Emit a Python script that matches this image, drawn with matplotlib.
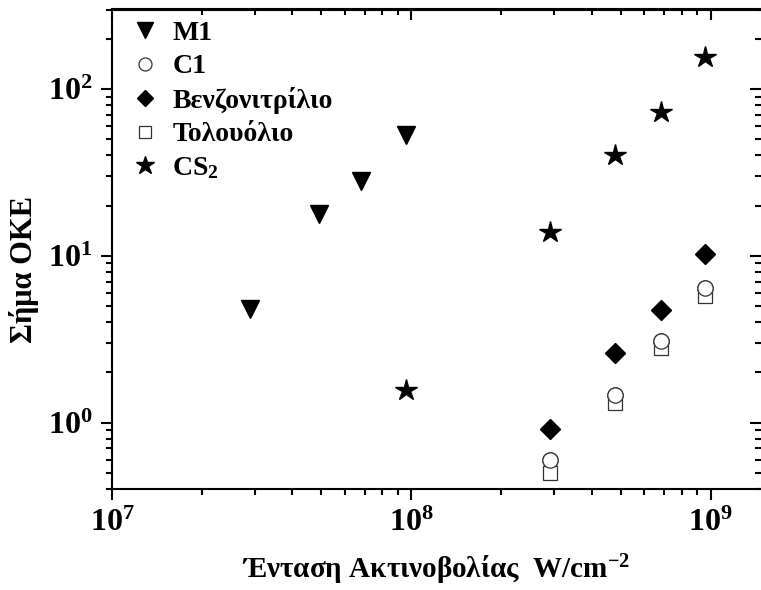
import matplotlib
matplotlib.use("Agg")
import matplotlib.pyplot as plt
from matplotlib.ticker import LogLocator, NullFormatter

plt.rcParams['font.family'] = ['Liberation Serif', 'DejaVu Serif']
plt.rcParams['font.weight'] = 'bold'
plt.rcParams['mathtext.fontset'] = 'custom'
plt.rcParams['mathtext.rm'] = 'Liberation Serif:bold'
plt.rcParams['mathtext.it'] = 'Liberation Serif:bold'
plt.rcParams['mathtext.bf'] = 'Liberation Serif:bold'
plt.rcParams['mathtext.default'] = 'rm'

# Intensity (W/cm^2) and OKE signal for each sample
m1_x = [2.9e7, 4.9e7, 6.8e7, 9.6e7]
m1_y = [4.8, 17.7, 28.0, 53.0]

c1_x = [2.9e8, 4.8e8, 6.8e8, 9.6e8]
c1_y = [0.60, 1.47, 3.07, 6.45]

benz_x = [2.9e8, 4.8e8, 6.8e8, 9.6e8]
benz_y = [0.91, 2.62, 4.73, 10.2]

tol_x = [2.9e8, 4.8e8, 6.8e8, 9.6e8]
tol_y = [0.50, 1.31, 2.82, 5.75]

cs2_x = [9.6e7, 2.9e8, 4.8e8, 6.8e8, 9.6e8]
cs2_y = [1.56, 13.9, 40.0, 72.5, 156.0]

labels = ["M1", "C1", "Βενζονιτρίλιο", "Τολουόλιο", r"CS$_\mathregular{2}$"]

fig = plt.figure(figsize=(7.61, 5.90), dpi=100)
ax = fig.add_axes([112 / 761, 101 / 590, 649 / 761, 479.5 / 590])

ax.plot(m1_x, m1_y, linestyle='none', marker='v', ms=13.5, color='black',
        mec='black', label=labels[0])
ax.plot(c1_x, c1_y, linestyle='none', marker='o', ms=11, mfc='white',
        mec='#333333', mew=0.9, label=labels[1])
ax.plot(benz_x, benz_y, linestyle='none', marker='D', ms=10, color='black',
        label=labels[2])
ax.plot(tol_x, tol_y, linestyle='none', marker='s', ms=10.5, mfc='white',
        mec='#333333', mew=0.9, label=labels[3])
ax.plot(cs2_x, cs2_y, linestyle='none', marker='*', ms=16, color='black',
        label=labels[4])
# redraw circles above squares so overlapping outlines read correctly
ax.plot(c1_x, c1_y, linestyle='none', marker='o', ms=11, mfc='white',
        mec='#333333', mew=0.9)

ax.set_xscale('log')
ax.set_yscale('log')
ax.set_xlim(1e7, 1.473e9)
ax.set_ylim(0.4, 300)

for a in (ax.xaxis, ax.yaxis):
    a.set_major_locator(LogLocator(base=10, numticks=10))
    a.set_minor_locator(LogLocator(base=10, subs=range(2, 10), numticks=20))
    a.set_minor_formatter(NullFormatter())

for side in ('left', 'bottom', 'top'):
    ax.spines[side].set_linewidth(1.5)
ax.spines['right'].set_visible(False)

ax.tick_params(which='both', bottom=True, left=True, top=False, right=False,
               direction='out', width=1.5)
ax.tick_params(which='major', length=8, labelsize=23, pad=6)
ax.tick_params(which='minor', length=4)

# mirrored ticks on top and right, pointing into the plot
tx = ax.secondary_xaxis('top')
tx.tick_params(which='both', direction='in', width=1.5, labeltop=False)
tx.tick_params(which='major', length=8)
tx.tick_params(which='minor', length=4)
tx.xaxis.set_minor_locator(LogLocator(base=10, subs=range(2, 10), numticks=20))
tx.xaxis.set_minor_formatter(NullFormatter())
tx.set_xticklabels([])
tx.spines['top'].set_linewidth(1.5)

ty = ax.secondary_yaxis('right')
ty.tick_params(which='both', direction='in', width=1.5, labelright=False)
ty.tick_params(which='major', length=8)
ty.tick_params(which='minor', length=4)
ty.yaxis.set_minor_locator(LogLocator(base=10, subs=range(2, 10), numticks=20))
ty.yaxis.set_minor_formatter(NullFormatter())
ty.set_yticklabels([])
ty.spines['right'].set_visible(False)

ax.set_xlabel(r"Ένταση Ακτινοβολίας  W/cm$^{-2}$", fontsize=21,
              fontweight='bold')
ax.xaxis.set_label_coords(0.5, -0.132)
ax.set_ylabel("Σήμα OKE", fontsize=22, fontweight='bold')
ax.yaxis.set_label_coords(-0.112, 0.457)

ax.legend(loc='upper left', frameon=False, fontsize=20, handletextpad=0.6,
          labelspacing=0.28, borderaxespad=0.0, borderpad=0.4,
          handlelength=0.8, markerscale=0.85,
          bbox_to_anchor=(0.016, 1.0))

fig.savefig("out.png", dpi=100)
